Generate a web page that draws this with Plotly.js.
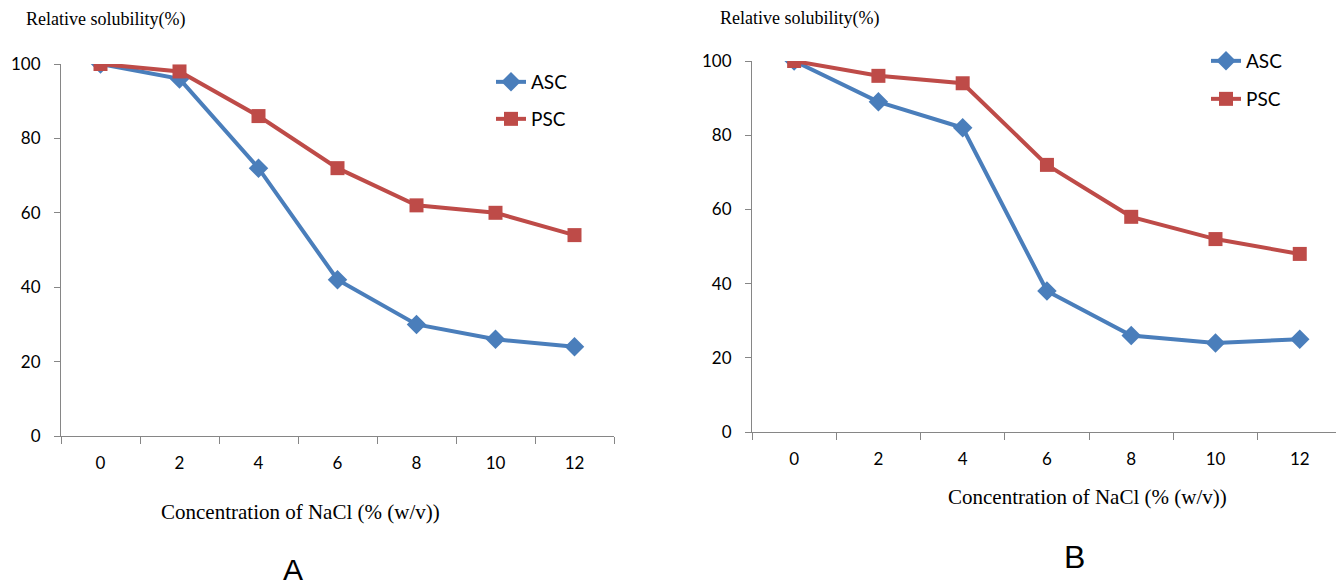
<!DOCTYPE html>
<html><head><meta charset="utf-8">
<script src="https://cdn.plot.ly/plotly-3.0.1.min.js"></script>
<style>html,body{margin:0;padding:0;background:#fff}#chart{width:1336px;height:586px}</style>
</head><body><div id="chart"></div>
<script>
const categories = ['0','2','4','6','8','10','12'];
const ascA = [100, 96, 72, 42, 30, 26, 24];
const pscA = [100, 98, 86, 72, 62, 60, 54];
const ascB = [100, 89, 82, 38, 26, 24, 25];
const pscB = [100, 96, 94, 72, 58, 52, 48];
const yTicks = [0, 20, 40, 60, 80, 100];

const W = 1336, H = 586;
const blue = '#4A7EBB', red = '#BE4B48';
const tickFont = {family: 'Lato, Carlito, sans-serif', size: 17, color: '#000'};
const serif = {family: 'Liberation Serif, Times New Roman, serif', size: 16, color: '#000'};

function tr(y, name, color, sym, xa, ya, leg) {
  return {x: categories, y: y, name: name, type: 'scatter', mode: 'lines+markers',
    line: {color: color, width: 4},
    marker: {symbol: sym, size: sym === 'square' ? 14 : 15, color: color},
    xaxis: xa, yaxis: ya, legend: leg};
}
const data = [
  tr(ascA, 'ASC', blue, 'diamond', 'x', 'y', 'legend'),
  tr(pscA, 'PSC', red, 'square', 'x', 'y', 'legend2'),
  tr(ascB, 'ASC', blue, 'diamond', 'x2', 'y2', 'legend3'),
  tr(pscB, 'PSC', red, 'square', 'x2', 'y2', 'legend4')
];
function xax(d, r) {
  return {domain: d, type: 'category', range: r, tickson: 'boundaries', ticks: 'outside',
    ticklen: 7, tickcolor: '#868686', showline: true, linecolor: '#868686', linewidth: 1,
    showgrid: false, zeroline: false, tickfont: tickFont, ticklabelstandoff: 12, fixedrange: true};
}
function yax(d, anchor) {
  return {domain: d, anchor: anchor, range: [0, 100], tickvals: yTicks, ticks: 'outside', ticklen: 6,
    tickcolor: '#868686', showline: true, linecolor: '#868686', linewidth: 1, showgrid: false,
    zeroline: false, tickfont: tickFont, ticklabelstandoff: 10};
}
function leg(x, y) {
  return {x: x / W, y: 1 - y / H, xanchor: 'left', yanchor: 'middle', bgcolor: 'rgba(0,0,0,0)',
    font: {family: 'Lato, Carlito, sans-serif', size: 19, color: '#000'}, itemwidth: 30};
}
const layout = {
  width: W, height: H, margin: {l: 0, r: 0, t: 0, b: 0},
  paper_bgcolor: '#fff', plot_bgcolor: '#fff', showlegend: true,
  xaxis: Object.assign(xax([61 / W, 614 / W], [-0.5, 6.5]), {anchor: 'y'}),
  yaxis: yax([(H - 436) / H, (H - 64) / H], 'x'),
  xaxis2: Object.assign(xax([752 / W, 1], [-0.5, 6.43]), {anchor: 'y2'}),
  yaxis2: yax([(H - 432) / H, (H - 61) / H], 'x2'),
  legend: leg(491, 82), legend2: leg(491, 119),
  legend3: leg(1206, 61), legend4: leg(1206, 99),
  annotations: [
    {text: 'Relative solubility(%)', x: 24 / W, y: 1 - 19 / H, xref: 'paper', yref: 'paper', xanchor: 'left', yanchor: 'middle', showarrow: false, font: Object.assign({}, serif, {size: 18})},
    {text: 'Relative solubility(%)', x: 718 / W, y: 1 - 18 / H, xref: 'paper', yref: 'paper', xanchor: 'left', yanchor: 'middle', showarrow: false, font: Object.assign({}, serif, {size: 18})},
    {text: 'Concentration of NaCl (% (w/v))', x: 300 / W, y: 1 - 512 / H, xref: 'paper', yref: 'paper', xanchor: 'center', yanchor: 'middle', showarrow: false, font: Object.assign({}, serif, {size: 21})},
    {text: 'Concentration of NaCl (% (w/v))', x: 1087 / W, y: 1 - 497 / H, xref: 'paper', yref: 'paper', xanchor: 'center', yanchor: 'middle', showarrow: false, font: Object.assign({}, serif, {size: 21})},
    {text: 'A', x: 293 / W, y: 1 - 569 / H, xref: 'paper', yref: 'paper', xanchor: 'center', yanchor: 'middle', showarrow: false, font: {family: 'Liberation Sans, Arial, sans-serif', size: 30, color: '#000'}},
    {text: 'B', x: 1074 / W, y: 1 - 557 / H, xref: 'paper', yref: 'paper', xanchor: 'center', yanchor: 'middle', showarrow: false, font: {family: 'Liberation Sans, Arial, sans-serif', size: 32, color: '#000'}}
  ]
};
Plotly.newPlot('chart', data, layout, {staticPlot: true, displayModeBar: false});
</script></body></html>
